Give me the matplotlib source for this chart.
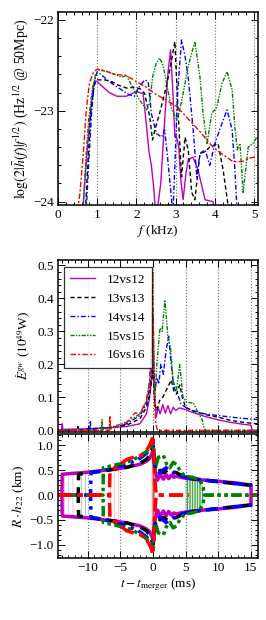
import matplotlib
matplotlib.use('Agg')
import matplotlib.pyplot as plt
from matplotlib.ticker import MultipleLocator
import numpy as np

plt.rcParams['font.family'] = ['Liberation Serif', 'DejaVu Serif']
plt.rcParams['mathtext.fontset'] = 'stix'
plt.rcParams['font.size'] = 9.5
plt.rcParams['hatch.linewidth'] = 0.5

labels = ['12vs12', '13vs13', '14vs14', '15vs15', '16vs16']
colours = ['#c000c0', 'k', 'b', 'g', 'r']
styles = ['-', (0, (3, 2)), (0, (3.5, 1.5, 1, 1.5)), (0, (3, 1, 1, 1, 1, 1)), (0, (4, 1.5, 1.5, 1.5))]

# ---- spectrum: f (kHz), log(2|h(f)|f^1/2)
spec_f = [
    [0.63, 0.7, 0.76, 0.83, 0.89, 0.95, 1.0, 1.15, 1.31, 1.5, 1.74, 2.0, 2.17, 2.25, 2.32, 2.38, 2.44, 2.5,
     2.62, 2.72, 2.8, 2.87, 2.93, 2.98, 3.03, 3.08, 3.13, 3.19, 3.26, 3.32, 3.44, 3.57, 3.75, 3.95, 4.05],
    [0.7, 0.76, 0.84, 0.92, 1.0, 1.2, 1.37, 1.55, 1.75, 1.95, 2.1, 2.21, 2.34, 2.41, 2.49, 2.59, 2.72, 2.85,
     2.98, 3.06, 3.15, 3.24, 3.32, 3.41, 3.49, 3.62, 3.75, 3.87, 4.08, 4.21, 4.33, 4.4],
    [0.72, 0.78, 0.86, 0.93, 1.0, 1.15, 1.31, 1.62, 1.8, 1.95, 2.05, 2.21, 2.3, 2.38, 2.51, 2.64, 2.72, 2.8,
     2.89, 2.93, 2.98, 3.05, 3.15, 3.24, 3.32, 3.44, 3.54, 3.62, 3.75, 3.87, 4.0, 4.18, 4.31, 4.44, 4.51, 4.58],
    [0.64, 0.7, 0.78, 0.88, 0.96, 1.06, 1.26, 1.45, 1.62, 1.75, 1.9, 2.08, 2.26, 2.34, 2.41, 2.5, 2.59, 2.68,
     2.77, 2.9, 3.03, 3.1, 3.19, 3.28, 3.36, 3.49, 3.62, 3.7, 3.8, 3.92, 4.05, 4.18, 4.31, 4.44, 4.51, 4.57,
     4.64, 4.72, 4.85, 4.97, 5.07, 5.12],
    [0.5, 0.56, 0.64, 0.72, 0.8, 0.9, 1.0, 1.2, 1.45, 1.74, 2.0, 2.25, 2.5, 2.75, 3.02, 3.3, 3.6, 3.95, 4.2,
     4.46, 4.7, 4.9, 5.12],
]
spec_y = [
    [-24.1, -23.7, -23.35, -23.0, -22.77, -22.67, -22.68, -22.74, -22.80, -22.84, -22.84, -22.79, -22.81,
     -23.14, -23.45, -23.6, -23.84, -24.2, -23.8, -23.1, -22.6, -22.33, -22.8, -23.29, -23.3, -23.4, -23.75,
     -23.98, -23.7, -23.54, -23.51, -23.65, -23.98, -24.0, -24.2],
    [-24.1, -23.6, -23.0, -22.72, -22.66, -22.66, -22.68, -22.72, -22.75, -22.74, -22.76, -22.81, -23.07,
     -23.32, -23.18, -23.03, -22.81, -22.55, -22.24, -22.99, -23.73, -23.29, -23.43, -23.9, -23.98, -23.47,
     -23.45, -23.4, -23.36, -23.65, -24.02, -24.2],
    [-24.1, -23.6, -23.0, -22.68, -22.57, -22.62, -22.68, -22.77, -22.82, -22.84, -22.75, -22.66, -22.68,
     -23.03, -23.25, -23.29, -23.21, -23.54, -23.95, -24.15, -23.6, -22.8, -22.22, -22.4, -22.63, -23.18,
     -23.73, -23.47, -23.43, -23.6, -23.36, -23.14, -22.99, -23.21, -23.65, -24.2],
    [-24.1, -23.6, -23.1, -22.75, -22.6, -22.55, -22.57, -22.6, -22.63, -22.61, -22.74, -22.88, -22.99,
     -22.91, -22.63, -22.48, -22.42, -22.5, -22.7, -22.99, -23.1, -23.0, -22.81, -22.6, -22.44, -22.24,
     -22.63, -23.03, -23.36, -23.03, -22.96, -22.7, -22.57, -22.77, -23.18, -23.43, -23.36, -23.9, -23.4,
     -23.36, -23.29, -23.32],
    [-24.1, -23.9, -23.5, -23.0, -22.7, -22.58, -22.54, -22.56, -22.6, -22.61, -22.68, -22.74, -22.82, -22.88,
     -22.95, -23.08, -23.22, -23.4, -23.48, -23.56, -23.56, -23.52, -23.5],
]

# ---- GW luminosity: t - t_merger (ms), 1e49 W
lum_t = [
    [-14.5, -14.0, -13.9, -13.8, -12, -10, -8, -6, -4, -2, -1, -0.5, -0.2, 0, 0.2, 0.5, 0.8, 1.1, 1.5, 1.9,
     2.3, 2.7, 3.1, 3.5, 4, 5, 6, 8, 10, 12, 14, 15, 15.2, 16],
    [-14.5, -11.6, -11.5, -11.4, -10, -8, -6, -4, -2, -1, -0.5, -0.2, 0, 0.3, 0.6, 1.0, 1.5, 2.0, 2.5, 2.8,
     3.2, 3.6, 4.1, 4.5, 5, 6, 8, 10, 12, 14, 16],
    [-14.5, -9.7, -9.6, -9.5, -8, -6, -4, -2, -1, -0.5, -0.2, 0, 0.3, 0.6, 0.9, 1.2, 1.6, 2.0, 2.4, 2.8, 3.2,
     3.8, 4.3, 5, 6, 8, 10, 12, 14, 16],
    [-14.5, -7.9, -7.8, -7.7, -6, -4, -2, -1, -0.5, -0.2, 0, 0.3, 0.6, 1.07, 1.4, 1.84, 2.3, 2.7, 3.1, 3.6,
     4.1, 4.6, 5.2, 6.2, 7.0, 7.5, 7.8, 8.0, 16],
    [-14.5, -6.7, -6.6, -6.5, -5, -4, -2.75, -2, -1, -0.5, -0.2, -0.05, 0.05, 0.2, 0.4, 0.6, 0.8, 16],
]
lum_v = [
    [0, 0.002, 0.02, 0.003, 0.004, 0.005, 0.007, 0.009, 0.012, 0.02, 0.05, 0.1, 0.16, 0.2, 0.12, 0.04, 0.07,
     0.05, 0.078, 0.052, 0.075, 0.05, 0.07, 0.06, 0.068, 0.063, 0.055, 0.042, 0.032, 0.024, 0.018, 0.016, 0, 0],
    [0, 0, 0.012, 0, 0.004, 0.007, 0.01, 0.016, 0.035, 0.07, 0.11, 0.15, 0.18, 0.08, 0.06, 0.09, 0.1, 0.12,
     0.14, 0.153, 0.12, 0.11, 0.138, 0.1, 0.07, 0.06, 0.048, 0.04, 0.03, 0.024, 0.02],
    [0, 0, 0.03, 0.002, 0.006, 0.01, 0.02, 0.045, 0.08, 0.13, 0.2, 0.265, 0.12, 0.16, 0.14, 0.2, 0.17, 0.24,
     0.285, 0.2, 0.13, 0.11, 0.08, 0.07, 0.06, 0.05, 0.045, 0.04, 0.036, 0.033],
    [0, 0, 0.033, 0.003, 0.012, 0.025, 0.05, 0.09, 0.15, 0.25, 0.355, 0.1, 0.2, 0.31, 0.3, 0.395, 0.28,
     0.25, 0.15, 0.12, 0.2, 0.1, 0.085, 0.083, 0.05, 0.035, 0.01, 0, 0],
    [0, 0, 0.045, 0.004, 0.015, 0.025, 0.053, 0.05, 0.09, 0.15, 0.28, 0.483, 0.35, 0.1, 0.03, 0.005, 0, 0],
]

# ---- strain amplitude envelope: R*h22 (km)
amp_t = [
    [-14.5, -13.95, -13.9, -12, -10, -8, -6, -4, -2, -1, -0.5, -0.2, 0, 0.3, 0.7, 1.1, 1.6, 2.0, 2.4, 2.8,
     3.2, 3.6, 4.2, 5, 7, 10, 13, 15, 15.05, 16],
    [-14.5, -11.45, -11.4, -10, -8, -6, -4, -2, -1, -0.5, -0.2, 0, 0.3, 0.7, 1.1, 1.6, 2.2, 2.8, 3.6, 4.6,
     6, 8, 10, 12, 14, 16],
    [-14.5, -9.55, -9.5, -8, -6, -4, -2, -1, -0.5, -0.2, 0, 0.3, 0.6, 1.0, 1.5, 2.0, 2.6, 3.2, 4.0, 5, 6, 8,
     10, 12, 14, 16],
    [-14.5, -7.65, -7.6, -6, -4, -2, -1, -0.5, -0.2, 0, 0.3, 0.8, 1.6, 2.1, 2.6, 3.1, 3.6, 4.1, 4.6, 5.0, 5.5,
     6.0, 6.5, 7.0, 7.4, 7.7, 7.9, 16],
    [-14.5, -6.65, -6.6, -5, -4, -3, -2, -1, -0.5, -0.2, 0, 0.15, 0.3, 0.5, 5.5],
]
amp_v = [
    [0, 0, 0.42, 0.44, 0.46, 0.49, 0.52, 0.56, 0.62, 0.68, 0.74, 0.82, 0.9, 0.5, 0.3, 0.42, 0.32, 0.42, 0.33,
     0.4, 0.36, 0.38, 0.36, 0.34, 0.31, 0.28, 0.24, 0.2, 0, 0],
    [0, 0, 0.42, 0.45, 0.48, 0.52, 0.56, 0.64, 0.72, 0.8, 0.9, 1.0, 0.6, 0.45, 0.5, 0.45, 0.5, 0.48, 0.45,
     0.38, 0.33, 0.3, 0.27, 0.24, 0.21, 0.19],
    [0, 0, 0.45, 0.48, 0.55, 0.62, 0.74, 0.84, 0.92, 0.98, 1.05, 0.6, 0.5, 0.45, 0.5, 0.55, 0.5, 0.45, 0.4,
     0.36, 0.33, 0.3, 0.27, 0.24, 0.21, 0.19],
    [0, 0, 0.55, 0.6, 0.66, 0.78, 0.88, 0.95, 1.0, 1.1, 0.5, 0.76, 0.8, 0.62, 0.55, 0.66, 0.62, 0.5, 0.42,
     0.37, 0.37, 0.36, 0.34, 0.31, 0.25, 0.15, 0, 0],
    [0, 0, 0.45, 0.62, 0.72, 0.76, 0.78, 0.9, 1.0, 1.1, 1.2, 0.8, 0.3, 0, 0],
]
# spans where single oscillations show up as thin lines
thin_span = [(-13.9, -11.0), (-11.4, -9.8), (-9.5, -9.0), (-7.6, -7.0), (-6.6, -5.0)]
green_fill = (5.0, 7.9)

fig = plt.figure(figsize=(2.66, 6.2), dpi=100)
ax1 = fig.add_axes([0.218, 0.669, 0.752, 0.312])
ax2 = fig.add_axes([0.218, 0.3037, 0.752, 0.2773])
ax3 = fig.add_axes([0.218, 0.1005, 0.752, 0.1987])

for i in range(5):
    ax1.plot(spec_f[i], spec_y[i], color=colours[i], ls=styles[i], lw=1.0)
    ax2.plot(lum_t[i], lum_v[i], color=colours[i], ls=styles[i], lw=1.0, label=labels[i])
    t = np.array(amp_t[i])
    a = np.array(amp_v[i])
    ax3.plot(t, a, color=colours[i], ls=styles[i], lw=2.5)
    ax3.plot(t, -a, color=colours[i], ls=styles[i], lw=2.5)
    lo, hi = thin_span[i]
    m = (t >= lo) & (t <= hi)
    ax3.fill_between(t[m], -a[m], a[m], facecolor='none', edgecolor=colours[i], alpha=0.35,
                     hatch='||||', lw=0)

t = np.array(amp_t[3])
a = np.array(amp_v[3])
m = (t >= green_fill[0]) & (t <= green_fill[1])
ax3.fill_between(t[m], -a[m], a[m], facecolor='none', edgecolor='g', hatch='|' * 10, lw=0)
t = np.array(amp_t[4])
a = np.array(amp_v[4])
m = (t >= -0.2) & (t <= 0.3)
ax3.fill_between(t[m], -a[m], a[m], facecolor='none', edgecolor='r', hatch='|' * 12, lw=0)

ax1.set_xlim(0, 5.1)
ax1.set_ylim(-24.04, -21.91)
ax1.xaxis.set_major_locator(MultipleLocator(1))
ax1.xaxis.set_minor_locator(MultipleLocator(0.2))
ax1.yaxis.set_major_locator(MultipleLocator(1))
ax1.yaxis.set_minor_locator(MultipleLocator(0.2))
ax1.set_xlabel(r'$f$ (kHz)', labelpad=1)
ax1.set_ylabel(r'$\log(2|\bar{h}(f)|f^{1/2})$ (Hz$^{1/2}$ @ 50Mpc)', labelpad=2, fontsize=10)

ax2.set_xlim(-14.55, 16.1)
ax2.set_ylim(-0.004, 0.517)
ax2.xaxis.set_major_locator(MultipleLocator(5))
ax2.xaxis.set_minor_locator(MultipleLocator(1))
ax2.yaxis.set_major_locator(MultipleLocator(0.1))
ax2.yaxis.set_minor_locator(MultipleLocator(0.02))
ax2.tick_params(labelbottom=False)
ax2.set_ylabel(r'$\dot{E}^{gw}$ ($10^{49}$W)', labelpad=3)
ax2.legend(loc='upper left', fontsize=9.5, frameon=True, fancybox=False, edgecolor='k',
           handlelength=1.9, handletextpad=0.9, labelspacing=0.5, borderpad=0.5,
           bbox_to_anchor=(-0.005, 0.995)).get_frame().set_linewidth(0.9)

ax3.set_xlim(-14.55, 16.1)
ax3.set_ylim(-1.26, 1.22)
ax3.xaxis.set_major_locator(MultipleLocator(5))
ax3.xaxis.set_minor_locator(MultipleLocator(1))
ax3.yaxis.set_major_locator(MultipleLocator(0.5))
ax3.yaxis.set_minor_locator(MultipleLocator(0.1))
ax3.set_xlabel(r'$t - t_{\rm merger}$ (ms)', labelpad=2)
ax3.set_ylabel(r'$R\cdot h_{22}$ (km)', labelpad=2)

for ax in (ax1, ax2, ax3):
    ax.grid(True, axis='x', ls=':', color='0.45', lw=0.8)
    ax.tick_params(which='both', direction='in', top=True, right=True, width=0.7, pad=3)
    ax.tick_params(which='major', length=5)
    ax.tick_params(which='minor', length=2.5)
    for s in ax.spines.values():
        s.set_linewidth(1.1)

fig.savefig('out.png', dpi=100)
